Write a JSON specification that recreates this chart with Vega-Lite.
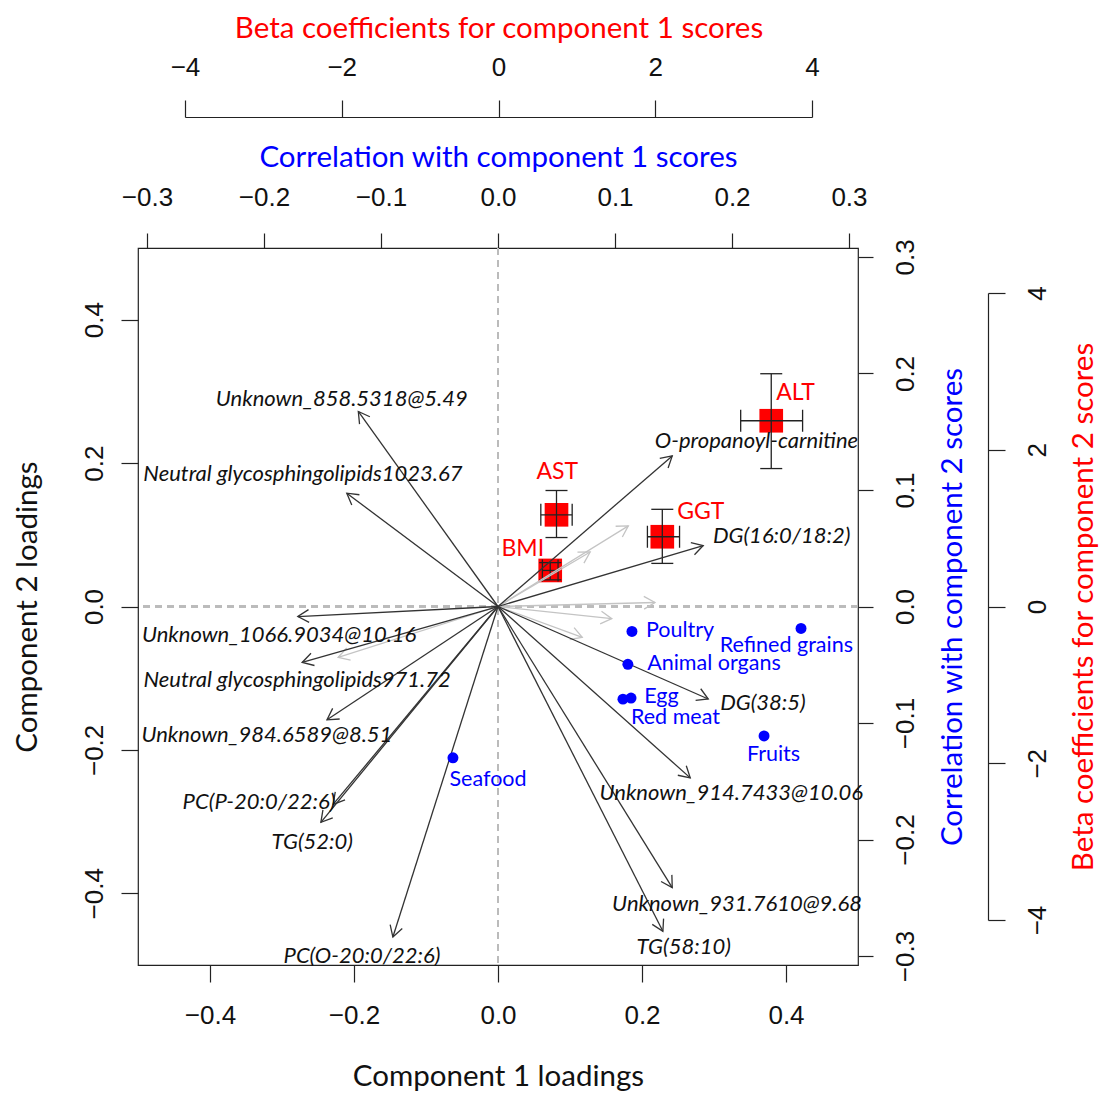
{
  "$schema": "https://vega.github.io/schema/vega-lite/v6.json",
  "width": 720,
  "height": 717,
  "autosize": {"type": "none"},
  "padding": {"left": 138, "top": 248, "right": 241, "bottom": 128},
  "config": {
    "view": {"stroke": "#222", "strokeWidth": 1.2},
    "axis": {
      "grid": false,
      "labelFont": "Liberation Sans",
      "labelFontSize": 26,
      "labelColor": "#111",
      "tickColor": "#222",
      "tickWidth": 1.2,
      "domainColor": "#222",
      "domainWidth": 1.2,
      "titleFont": "Lato",
      "titleFontWeight": "normal",
      "titleFontSize": 29.5,
      "titleColor": "#111",
      "labelOverlap": false,
      "labelFlush": false
    }
  },
  "datasets": {
    "arrows": [
      {"name": "Unknown_858.5318@5.49", "x": -0.194, "y": 0.272, "lx": -0.217, "ly": 0.29},
      {"name": "Neutral glycosphingolipids1023.67", "x": -0.21, "y": 0.158, "lx": -0.271, "ly": 0.185},
      {"name": "O-propanoyl-carnitine", "x": 0.242, "y": 0.21, "lx": 0.359, "ly": 0.231},
      {"name": "DG(16:0/18:2)", "x": 0.285, "y": 0.085, "lx": 0.394, "ly": 0.0986},
      {"name": "Unknown_1066.9034@10.16", "x": -0.278, "y": -0.014, "lx": -0.304, "ly": -0.04},
      {"name": "Neutral glycosphingolipids971.72", "x": -0.272, "y": -0.078, "lx": -0.279, "ly": -0.103},
      {"name": "Unknown_984.6589@8.51", "x": -0.2375, "y": -0.158, "lx": -0.321, "ly": -0.179},
      {"name": "PC(P-20:0/22:6)", "x": -0.229, "y": -0.276, "lx": -0.332, "ly": -0.272},
      {"name": "TG(52:0)", "x": -0.246, "y": -0.301, "lx": -0.258, "ly": -0.329},
      {"name": "PC(O-20:0/22:6)", "x": -0.146, "y": -0.461, "lx": -0.189, "ly": -0.4875},
      {"name": "DG(38:5)", "x": 0.292, "y": -0.129, "lx": 0.368, "ly": -0.135},
      {"name": "Unknown_914.7433@10.06", "x": 0.267, "y": -0.239, "lx": 0.324, "ly": -0.26},
      {"name": "Unknown_931.7610@9.68", "x": 0.242, "y": -0.392, "lx": 0.332, "ly": -0.415},
      {"name": "TG(58:10)", "x": 0.229, "y": -0.453, "lx": 0.258, "ly": -0.475}
    ],
    "grayArrows": [
      {"x": 0.181, "y": 0.1125},
      {"x": 0.128, "y": 0.076},
      {"x": 0.218, "y": 0.0056},
      {"x": 0.158, "y": -0.017},
      {"x": 0.117, "y": -0.043},
      {"x": -0.222, "y": -0.071}
    ],
    "foods": [
      {"food": "Poultry", "cx": 0.1145, "cy": -0.0214, "lx": 0.1556, "ly": -0.0214},
      {"food": "Refined grains", "cx": 0.259, "cy": -0.0188, "lx": 0.2465, "ly": -0.0336},
      {"food": "Animal organs", "cx": 0.111, "cy": -0.0496, "lx": 0.1846, "ly": -0.0496},
      {"food": "Egg", "cx": 0.1137, "cy": -0.0786, "lx": 0.1397, "ly": -0.0775},
      {"food": "Red meat", "cx": 0.1068, "cy": -0.0795, "lx": 0.1517, "ly": -0.0955},
      {"food": "Fruits", "cx": 0.2274, "cy": -0.1111, "lx": 0.2355, "ly": -0.1274},
      {"food": "Seafood", "cx": -0.0385, "cy": -0.1299, "lx": -0.0085, "ly": -0.1487}
    ],
    "beta": [
      {"var": "ALT", "bx": 3.48, "by": 2.37, "bxlo": 3.09, "bxhi": 3.88, "bylo": 1.76, "byhi": 2.97, "lx": 3.79, "ly": 2.73},
      {"var": "AST", "bx": 0.74, "by": 1.17, "bxlo": 0.54, "bxhi": 0.94, "bylo": 0.88, "byhi": 1.48, "lx": 0.75, "ly": 1.71},
      {"var": "GGT", "bx": 2.09, "by": 0.89, "bxlo": 1.9, "bxhi": 2.31, "bylo": 0.55, "byhi": 1.24, "lx": 2.58, "ly": 1.2},
      {"var": "BMI", "bx": 0.66, "by": 0.46, "bxlo": 0.56, "bxhi": 0.76, "bylo": 0.34, "byhi": 0.56, "lx": 0.31, "ly": 0.74}
    ]
  },
  "resolve": {
    "scale": {"x": "independent", "y": "independent"},
    "axis": {"x": "independent", "y": "independent"}
  },
  "layer": [
    {
      "data": {"name": "beta"},
      "mark": {"type": "point", "shape": "square", "filled": true, "color": "#ff0000", "opacity": 1, "size": 560},
      "encoding": {
        "x": {"field": "bx", "type": "quantitative",
          "scale": {"domain": [-4, 4], "range": [47, 674], "nice": false, "zero": false},
          "axis": {"orient": "top", "offset": 131, "values": [-4, -2, 0, 2, 4], "tickSize": 17, "labelPadding": 20, "labelAngle": 0,
            "title": "Beta coefficients for component 1 scores", "titleColor": "#ff0000", "titlePadding": 11}},
        "y": {"field": "by", "type": "quantitative",
          "scale": {"domain": [-4, 4], "range": [672, 45], "nice": false, "zero": false},
          "axis": {"orient": "right", "offset": 130, "values": [-4, -2, 0, 2, 4], "tickSize": 17, "labelPadding": 19, "labelAngle": -90,
            "title": "Beta coefficients for component 2 scores", "titleColor": "#ff0000", "titleAngle": -90,
            "titleX": 95, "titleY": 358.5, "titleAlign": "center", "titleBaseline": "middle"}}
      }
    },
    {
      "data": {"name": "beta"},
      "mark": {"type": "rule", "color": "#222", "strokeWidth": 1.3},
      "encoding": {
        "x": {"field": "bxlo", "type": "quantitative", "scale": {"domain": [-4, 4], "range": [47, 674], "nice": false, "zero": false}, "axis": null},
        "x2": {"field": "bxhi"},
        "y": {"field": "by", "type": "quantitative", "scale": {"domain": [-4, 4], "range": [672, 45], "nice": false, "zero": false}, "axis": null}
      }
    },
    {
      "data": {"name": "beta"},
      "mark": {"type": "rule", "color": "#222", "strokeWidth": 1.3},
      "encoding": {
        "x": {"field": "bx", "type": "quantitative", "scale": {"domain": [-4, 4], "range": [47, 674], "nice": false, "zero": false}, "axis": null},
        "y": {"field": "bylo", "type": "quantitative", "scale": {"domain": [-4, 4], "range": [672, 45], "nice": false, "zero": false}, "axis": null},
        "y2": {"field": "byhi"}
      }
    },
    {
      "data": {"name": "beta"},
      "mark": {"type": "tick", "orient": "vertical", "size": 22, "thickness": 1.3, "color": "#222", "opacity": 1},
      "encoding": {
        "x": {"field": "bxlo", "type": "quantitative", "scale": {"domain": [-4, 4], "range": [47, 674], "nice": false, "zero": false}, "axis": null},
        "y": {"field": "by", "type": "quantitative", "scale": {"domain": [-4, 4], "range": [672, 45], "nice": false, "zero": false}, "axis": null}
      }
    },
    {
      "data": {"name": "beta"},
      "mark": {"type": "tick", "orient": "vertical", "size": 22, "thickness": 1.3, "color": "#222", "opacity": 1},
      "encoding": {
        "x": {"field": "bxhi", "type": "quantitative", "scale": {"domain": [-4, 4], "range": [47, 674], "nice": false, "zero": false}, "axis": null},
        "y": {"field": "by", "type": "quantitative", "scale": {"domain": [-4, 4], "range": [672, 45], "nice": false, "zero": false}, "axis": null}
      }
    },
    {
      "data": {"name": "beta"},
      "mark": {"type": "tick", "orient": "horizontal", "size": 22, "thickness": 1.3, "color": "#222", "opacity": 1},
      "encoding": {
        "x": {"field": "bx", "type": "quantitative", "scale": {"domain": [-4, 4], "range": [47, 674], "nice": false, "zero": false}, "axis": null},
        "y": {"field": "bylo", "type": "quantitative", "scale": {"domain": [-4, 4], "range": [672, 45], "nice": false, "zero": false}, "axis": null}
      }
    },
    {
      "data": {"name": "beta"},
      "mark": {"type": "tick", "orient": "horizontal", "size": 22, "thickness": 1.3, "color": "#222", "opacity": 1},
      "encoding": {
        "x": {"field": "bx", "type": "quantitative", "scale": {"domain": [-4, 4], "range": [47, 674], "nice": false, "zero": false}, "axis": null},
        "y": {"field": "byhi", "type": "quantitative", "scale": {"domain": [-4, 4], "range": [672, 45], "nice": false, "zero": false}, "axis": null}
      }
    },
    {
      "data": {"name": "beta"},
      "mark": {"type": "text", "font": "Lato", "fontSize": 23, "color": "#ff0000", "align": "center", "baseline": "middle"},
      "encoding": {
        "x": {"field": "lx", "type": "quantitative", "scale": {"domain": [-4, 4], "range": [47, 674], "nice": false, "zero": false}, "axis": null},
        "y": {"field": "ly", "type": "quantitative", "scale": {"domain": [-4, 4], "range": [672, 45], "nice": false, "zero": false}, "axis": null},
        "text": {"field": "var"}
      }
    },
    {
      "data": {"name": "arrows"},
      "mark": {"type": "rule", "color": "#bbbbbb", "strokeDash": [7, 5], "strokeWidth": 1.4},
      "encoding": {
        "x": {"datum": 0, "type": "quantitative", "scale": {"domain": [-0.5, 0.5], "nice": false, "zero": false},
          "axis": {"orient": "bottom", "values": [-0.4, -0.2, 0, 0.2, 0.4], "format": ".1f", "domain": false, "tickSize": 17, "labelPadding": 20, "labelAngle": 0,
            "title": "Component 1 loadings", "titlePadding": 34}}
      }
    },
    {
      "data": {"name": "arrows"},
      "mark": {"type": "rule", "color": "#bbbbbb", "strokeDash": [7, 5], "strokeWidth": 1.4},
      "encoding": {
        "y": {"datum": 0, "type": "quantitative", "scale": {"domain": [-0.5, 0.5], "nice": false, "zero": false},
          "axis": {"orient": "left", "values": [-0.4, -0.2, 0, 0.2, 0.4], "format": ".1f", "domain": false, "tickSize": 17, "labelPadding": 14, "labelAngle": -90,
            "title": "Component 2 loadings", "titleAngle": -90, "titleX": -111, "titleY": 358.5, "titleAlign": "center", "titleBaseline": "middle"}}
      }
    },
    {
      "data": {"name": "grayArrows"},
      "mark": {"type": "rule", "color": "#c4c4c4", "strokeWidth": 1.3},
      "encoding": {
        "x": {"field": "x", "type": "quantitative", "scale": {"domain": [-0.5, 0.5], "nice": false, "zero": false}, "axis": null},
        "y": {"field": "y", "type": "quantitative", "scale": {"domain": [-0.5, 0.5], "nice": false, "zero": false}, "axis": null},
        "x2": {"datum": 0},
        "y2": {"datum": 0}
      }
    },
    {
      "data": {"name": "grayArrows"},
      "transform": [{"calculate": "atan2(datum.x, datum.y) * 180 / PI", "as": "ang"}],
      "mark": {"type": "point", "shape": "M-0.577,1L0,0L0.577,1", "filled": false, "color": "#c4c4c4", "strokeWidth": 1.3, "size": 484, "opacity": 1},
      "encoding": {
        "x": {"field": "x", "type": "quantitative", "scale": {"domain": [-0.5, 0.5], "nice": false, "zero": false}, "axis": null},
        "y": {"field": "y", "type": "quantitative", "scale": {"domain": [-0.5, 0.5], "nice": false, "zero": false}, "axis": null},
        "angle": {"field": "ang", "type": "quantitative", "scale": null}
      }
    },
    {
      "data": {"name": "arrows"},
      "mark": {"type": "rule", "color": "#333333", "strokeWidth": 1.3},
      "encoding": {
        "x": {"field": "x", "type": "quantitative", "scale": {"domain": [-0.5, 0.5], "nice": false, "zero": false}, "axis": null},
        "y": {"field": "y", "type": "quantitative", "scale": {"domain": [-0.5, 0.5], "nice": false, "zero": false}, "axis": null},
        "x2": {"datum": 0},
        "y2": {"datum": 0}
      }
    },
    {
      "data": {"name": "arrows"},
      "transform": [{"calculate": "atan2(datum.x, datum.y) * 180 / PI", "as": "ang"}],
      "mark": {"type": "point", "shape": "M-0.577,1L0,0L0.577,1", "filled": false, "color": "#333333", "strokeWidth": 1.3, "size": 484, "opacity": 1},
      "encoding": {
        "x": {"field": "x", "type": "quantitative", "scale": {"domain": [-0.5, 0.5], "nice": false, "zero": false}, "axis": null},
        "y": {"field": "y", "type": "quantitative", "scale": {"domain": [-0.5, 0.5], "nice": false, "zero": false}, "axis": null},
        "angle": {"field": "ang", "type": "quantitative", "scale": null}
      }
    },
    {
      "data": {"name": "arrows"},
      "mark": {"type": "text", "font": "Lato", "fontStyle": "italic", "fontSize": 22, "color": "#111", "align": "center", "baseline": "middle"},
      "encoding": {
        "x": {"field": "lx", "type": "quantitative", "scale": {"domain": [-0.5, 0.5], "nice": false, "zero": false}, "axis": null},
        "y": {"field": "ly", "type": "quantitative", "scale": {"domain": [-0.5, 0.5], "nice": false, "zero": false}, "axis": null},
        "text": {"field": "name"}
      }
    },
    {
      "data": {"name": "foods"},
      "mark": {"type": "point", "shape": "circle", "filled": true, "color": "#0000ff", "opacity": 1, "size": 120},
      "encoding": {
        "x": {"field": "cx", "type": "quantitative", "scale": {"domain": [-0.3077, 0.3077], "nice": false, "zero": false},
          "axis": {"orient": "top", "values": [-0.3, -0.2, -0.1, 0, 0.1, 0.2, 0.3], "format": ".1f", "domain": false, "tickSize": 15, "labelPadding": 23, "labelAngle": 0,
            "title": "Correlation with component 1 scores", "titleColor": "#0000ff", "titlePadding": 12}},
        "y": {"field": "cy", "type": "quantitative", "scale": {"domain": [-0.3077, 0.3077], "nice": false, "zero": false},
          "axis": {"orient": "right", "values": [-0.3, -0.2, -0.1, 0, 0.1, 0.2, 0.3], "format": ".1f", "domain": false, "tickSize": 15, "labelPadding": 19, "labelAngle": -90,
            "title": "Correlation with component 2 scores", "titleColor": "#0000ff", "titleAngle": -90,
            "titleX": 94, "titleY": 358.5, "titleAlign": "center", "titleBaseline": "middle"}}
      }
    },
    {
      "data": {"name": "foods"},
      "mark": {"type": "text", "font": "Lato", "fontSize": 21.5, "color": "#0000ff", "align": "center", "baseline": "middle"},
      "encoding": {
        "x": {"field": "lx", "type": "quantitative", "scale": {"domain": [-0.3077, 0.3077], "nice": false, "zero": false}, "axis": null},
        "y": {"field": "ly", "type": "quantitative", "scale": {"domain": [-0.3077, 0.3077], "nice": false, "zero": false}, "axis": null},
        "text": {"field": "food"}
      }
    }
  ]
}
